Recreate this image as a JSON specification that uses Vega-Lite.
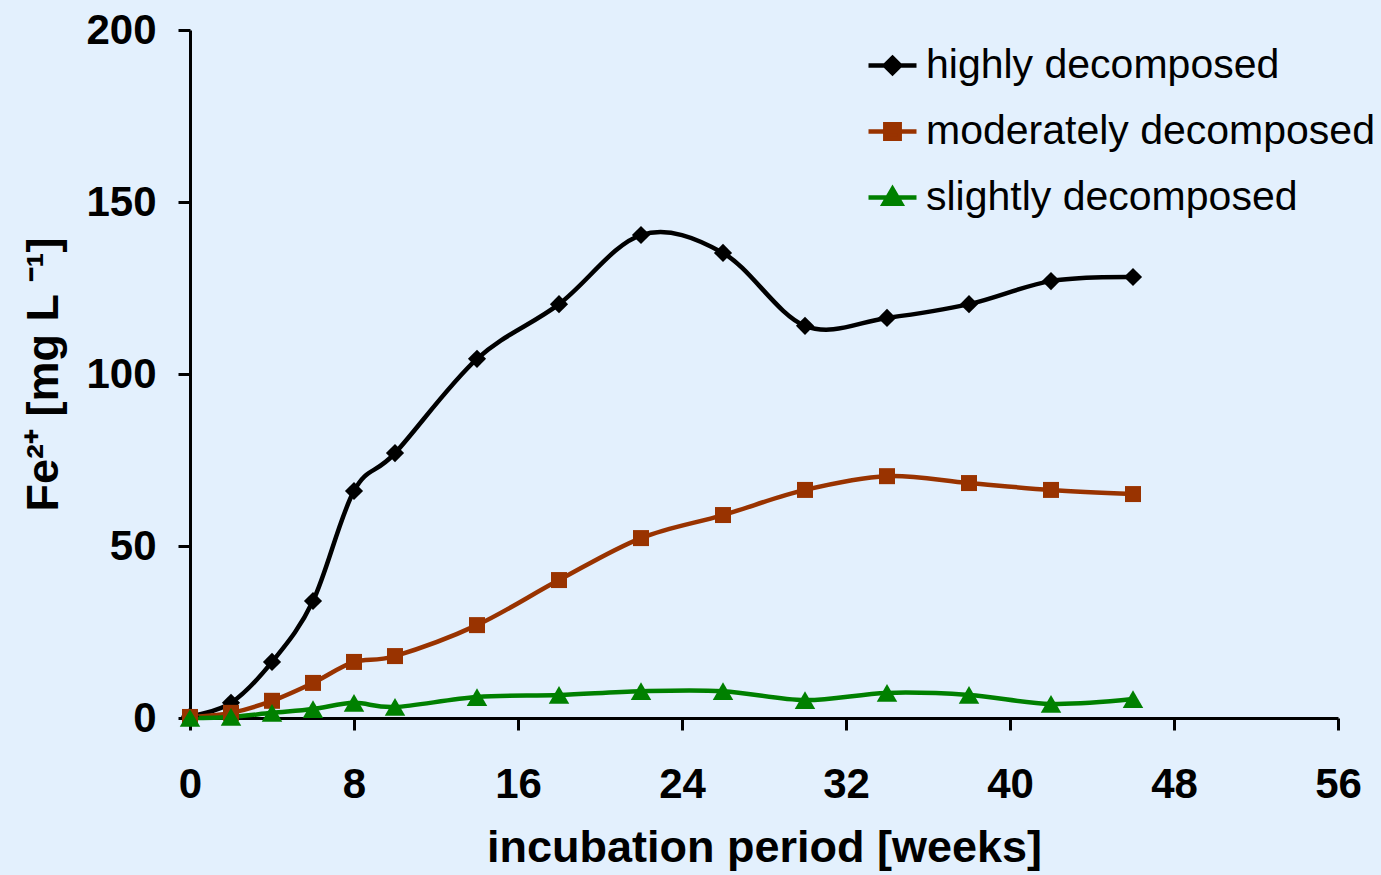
{
  "$schema": "https://vega.github.io/schema/vega-lite/v6.json",
  "width": 1148,
  "height": 688,
  "autosize": {"type": "none"},
  "padding": {"left": 190, "top": 30, "right": 43, "bottom": 157},
  "background": "#E3F0FD",
  "config": {
    "view": {"stroke": null},
    "font": "Liberation Sans",
    "axis": {
      "domainColor": "#000000",
      "domainWidth": 3,
      "tickColor": "#000000",
      "tickWidth": 3,
      "tickSize": 12,
      "grid": false,
      "labelFont": "Liberation Sans",
      "labelFontWeight": "bold",
      "labelFontSize": 42,
      "labelColor": "#000000",
      "titleFont": "Liberation Sans",
      "titleFontWeight": "bold",
      "titleFontSize": 45,
      "titleColor": "#000000"
    }
  },
  "data": {
    "values": [
      {"week": 0, "fe": 0.5, "series": "highly decomposed"},
      {"week": 2, "fe": 4.4, "series": "highly decomposed"},
      {"week": 4, "fe": 16.3, "series": "highly decomposed"},
      {"week": 6, "fe": 34, "series": "highly decomposed"},
      {"week": 8, "fe": 66, "series": "highly decomposed"},
      {"week": 10, "fe": 77, "series": "highly decomposed"},
      {"week": 14, "fe": 104.4, "series": "highly decomposed"},
      {"week": 18, "fe": 120.3, "series": "highly decomposed"},
      {"week": 22, "fe": 140.4, "series": "highly decomposed"},
      {"week": 26, "fe": 135.2, "series": "highly decomposed"},
      {"week": 30, "fe": 114, "series": "highly decomposed"},
      {"week": 34, "fe": 116.3, "series": "highly decomposed"},
      {"week": 38, "fe": 120.3, "series": "highly decomposed"},
      {"week": 42, "fe": 127, "series": "highly decomposed"},
      {"week": 46, "fe": 128.2, "series": "highly decomposed"},
      {"week": 0, "fe": 0.3, "series": "moderately decomposed"},
      {"week": 2, "fe": 1.5, "series": "moderately decomposed"},
      {"week": 4, "fe": 5, "series": "moderately decomposed"},
      {"week": 6, "fe": 10.2, "series": "moderately decomposed"},
      {"week": 8, "fe": 16.3, "series": "moderately decomposed"},
      {"week": 10, "fe": 18, "series": "moderately decomposed"},
      {"week": 14, "fe": 27, "series": "moderately decomposed"},
      {"week": 18, "fe": 40.1, "series": "moderately decomposed"},
      {"week": 22, "fe": 52.3, "series": "moderately decomposed"},
      {"week": 26, "fe": 59, "series": "moderately decomposed"},
      {"week": 30, "fe": 66.3, "series": "moderately decomposed"},
      {"week": 34, "fe": 70.3, "series": "moderately decomposed"},
      {"week": 38, "fe": 68.3, "series": "moderately decomposed"},
      {"week": 42, "fe": 66.3, "series": "moderately decomposed"},
      {"week": 46, "fe": 65.1, "series": "moderately decomposed"},
      {"week": 0, "fe": 0, "series": "slightly decomposed"},
      {"week": 2, "fe": 0.3, "series": "slightly decomposed"},
      {"week": 4, "fe": 1.5, "series": "slightly decomposed"},
      {"week": 6, "fe": 2.6, "series": "slightly decomposed"},
      {"week": 8, "fe": 4.4, "series": "slightly decomposed"},
      {"week": 10, "fe": 3.2, "series": "slightly decomposed"},
      {"week": 14, "fe": 6.1, "series": "slightly decomposed"},
      {"week": 18, "fe": 6.7, "series": "slightly decomposed"},
      {"week": 22, "fe": 7.8, "series": "slightly decomposed"},
      {"week": 26, "fe": 7.8, "series": "slightly decomposed"},
      {"week": 30, "fe": 5.2, "series": "slightly decomposed"},
      {"week": 34, "fe": 7.3, "series": "slightly decomposed"},
      {"week": 38, "fe": 6.7, "series": "slightly decomposed"},
      {"week": 42, "fe": 4.1, "series": "slightly decomposed"},
      {"week": 46, "fe": 5.5, "series": "slightly decomposed"}
    ]
  },
  "encoding": {
    "x": {
      "field": "week",
      "type": "quantitative",
      "scale": {"domain": [0, 56], "nice": false, "zero": false},
      "axis": {
        "values": [0, 8, 16, 24, 32, 40, 48, 56],
        "title": "incubation period [weeks]",
        "labelPadding": 34,
        "titlePadding": 20,
        "labelFlush": false
      }
    },
    "y": {
      "field": "fe",
      "type": "quantitative",
      "scale": {"domain": [0, 200], "nice": false},
      "axis": {
        "values": [0, 50, 100, 150, 200],
        "title": "Fe²⁺ [mg L ⁻¹]",
        "labelPadding": 22,
        "titleX": -147,
        "titleY": 344,
        "titleAngle": -90,
        "titleAlign": "center",
        "titleBaseline": "middle",
        "labelFlush": false
      }
    },
    "color": {
      "field": "series",
      "type": "nominal",
      "sort": ["highly decomposed", "moderately decomposed", "slightly decomposed"],
      "scale": {
        "domain": ["highly decomposed", "moderately decomposed", "slightly decomposed"],
        "range": ["#000000", "#993300", "#008000"]
      },
      "legend": {
        "orient": "none",
        "legendX": 676,
        "legendY": 9,
        "title": null,
        "padding": 0,
        "symbolSize": 2304,
        "symbolStrokeWidth": 4.5,
        "symbolType": "M-1,0H1",
        "labelFont": "Liberation Sans",
        "labelFontSize": 41,
        "labelColor": "#000000",
        "labelOffset": 7,
        "labelLimit": 600,
        "rowPadding": 19,
        "encode": {
          "symbols": {
            "update": {
              "shape": {"signal": "datum.value == 'highly decomposed' ? 'M-1,0H1M0,-0.32L0.32,0L0,0.32L-0.32,0Z' : datum.value == 'moderately decomposed' ? 'M-1,0H1M-0.3,-0.3H0.3V0.3H-0.3Z' : 'M-1,0H1M0,-0.36L0.36,0.26H-0.36Z'"},
              "fill": {"signal": "datum.value == 'highly decomposed' ? '#000000' : datum.value == 'moderately decomposed' ? '#993300' : '#008000'"},
              "stroke": {"signal": "datum.value == 'highly decomposed' ? '#000000' : datum.value == 'moderately decomposed' ? '#993300' : '#008000'"},
              "strokeWidth": {"value": 4.5}
            }
          }
        }
      }
    }
  },
  "layer": [
    {
      "mark": {"type": "line", "interpolate": "cardinal", "strokeWidth": 4.5}
    },
    {
      "transform": [{"filter": "datum.series == 'highly decomposed'"}],
      "mark": {"type": "point", "filled": true, "opacity": 1, "shape": "diamond", "size": 330},
      "encoding": {"color": {"field": "series", "type": "nominal", "legend": null}}
    },
    {
      "transform": [{"filter": "datum.series == 'moderately decomposed'"}],
      "mark": {"type": "point", "filled": true, "opacity": 1, "shape": "square", "size": 256},
      "encoding": {"color": {"field": "series", "type": "nominal", "legend": null}}
    },
    {
      "transform": [{"filter": "datum.series == 'slightly decomposed'"}],
      "mark": {"type": "point", "filled": true, "opacity": 1, "shape": "triangle-up", "size": 420},
      "encoding": {"color": {"field": "series", "type": "nominal", "legend": null}}
    }
  ]
}
